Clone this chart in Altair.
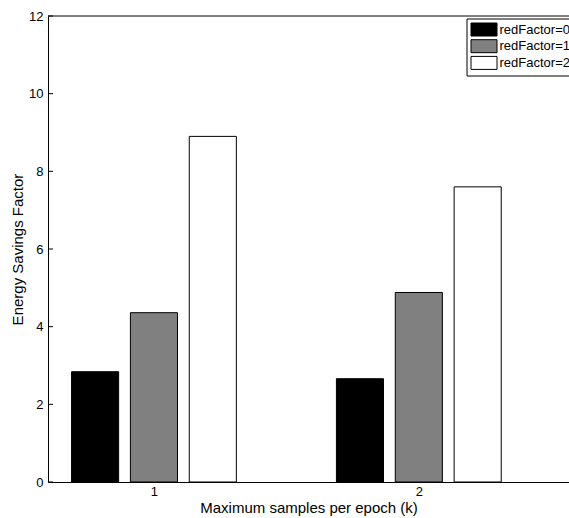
import altair as alt
import pandas as pd

# ---- data ----
groups = [1, 2]
series = ["redFactor=0", "redFactor=1", "redFactor=2"]
rf0 = [2.84, 2.66]
rf1 = [4.36, 4.88]
rf2 = [8.90, 7.60]
colors = ["#000000", "#808080", "#ffffff"]
y_ticks = [0, 2, 4, 6, 8, 10, 12]
x_title = "Maximum samples per epoch (k)"
y_title = "Energy Savings Factor"

rows = []
for si, (name, vals) in enumerate(zip(series, [rf0, rf1, rf2])):
    for g, v in zip(groups, vals):
        rows.append({"group": g, "series": name, "idx": si, "value": v})
df = pd.DataFrame(rows)
tick_df = pd.DataFrame({"value": y_ticks})
top_df = pd.DataFrame({"value": [max(y_ticks)]})

FONT = "Liberation Sans"
xscale = alt.Scale(domain=[0.6, 2.567], nice=False, zero=False)
yscale = alt.Scale(domain=[0, 12], nice=False)

yaxis = alt.Axis(values=y_ticks, title=y_title, tickSize=0, grid=False,
                 domainColor="black", domainWidth=1,
                 labelFont=FONT, labelFontSize=13, labelColor="black",
                 labelPadding=5, titleFont=FONT, titleFontSize=15,
                 titleFontWeight="normal", titleColor="black", titlePadding=3)

bars = alt.Chart(df).transform_calculate(
    xc="datum.group + (datum.idx - 1) * 0.2222"
).transform_calculate(
    x1="datum.xc - 0.0889", x2="datum.xc + 0.0889"
).mark_bar(stroke="#000000", strokeWidth=1, opacity=1).encode(
    x=alt.X("x1:Q", scale=xscale,
            axis=alt.Axis(values=groups, title=x_title, tickSize=0, grid=False,
                          domainColor="black", domainWidth=1,
                          labelFont=FONT, labelFontSize=13, labelColor="black",
                          labelPadding=3, titleFont=FONT, titleFontSize=15,
                          titleFontWeight="normal", titleColor="black", titlePadding=2,
                          format="d")),
    x2="x2:Q",
    y=alt.Y("value:Q", scale=yscale, axis=yaxis),
    y2=alt.datum(0),
    fill=alt.Fill("series:N", scale=alt.Scale(domain=series, range=colors),
                  legend=alt.Legend(title=None, orient="none", legendX=418.5, legendY=2.5,
                                    fillColor="white", strokeColor="black", padding=4,
                                    symbolType="M-1,-1H3V1H-1Z", symbolSize=169,
                                    symbolStrokeColor="black", symbolStrokeWidth=1,
                                    symbolOpacity=1,
                                    labelFont=FONT, labelFontSize=13, labelColor="black",
                                    labelOffset=15, rowPadding=-1.3)),
)

ticks = alt.Chart(tick_df).mark_rule(color="black", strokeWidth=1).encode(
    y=alt.Y("value:Q", scale=yscale, axis=yaxis),
    x=alt.value(0), x2=alt.value(5),
)

top = alt.Chart(top_df).mark_rule(color="black", strokeWidth=1).encode(
    y=alt.Y("value:Q", scale=yscale, axis=yaxis),
    x=alt.value(0), x2=alt.value(521),
)

chart = alt.layer(bars, ticks, top).properties(
    width=521, height=466,
    padding={"left": 48, "top": 16, "right": 0, "bottom": 36},
    autosize=alt.AutoSizeParams(type="none"),
    background="white",
).configure_view(stroke=None)

chart.save("out.html", embed_options={"renderer": "svg", "actions": False})
